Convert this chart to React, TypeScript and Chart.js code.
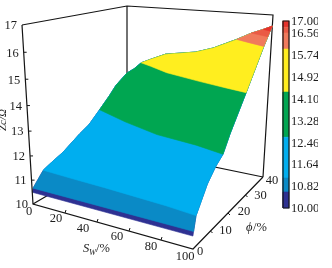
import React, { useEffect, useRef } from "react";
import { Chart, registerables } from "chart.js";

Chart.register(...registerables);

// ---- data: resistivity-like surface z(Sw, phi) ----
const leftRimPhi = [0, 0.4, 5, 8, 13.4, 20.4, 24.4, 28.8, 32.8, 35.6, 40];
const leftRimZ = [10.46, 10.6, 11.08, 11.2, 11.4, 11.83, 12.05, 12.5, 12.95, 13.33, 13.72];
const backEdgeSw = [0, 5, 10, 16, 27, 48, 60, 76, 86, 94, 100];
const backEdgeZ = [13.72, 13.97, 14.3, 14.5, 14.84, 15.08, 15.34, 15.82, 16.15, 16.35, 16.52];
const rightRimPhi = [0, 0.4, 1.8, 8, 12.4, 16.4, 20, 28, 36.2, 38, 39, 40];
const rightRimZ = [10.46, 10.6, 11.08, 11.86, 12.25, 12.5, 13.08, 14.3, 15.82, 16.15, 16.35, 16.52];

const contourLevels = [10.46, 10.6, 11.08, 12.5, 14.3, 15.82, 16.15, 16.35];
const contourSw = [
  [0, 100],
  [0, 100],
  [0, 20, 40, 60, 80, 100],
  [0, 25, 52, 80, 100],
  [10, 20, 37, 64, 85, 100],
  [76, 88, 100],
  [86, 100],
  [94, 100],
];
const contourPhi = [
  [0, 0],
  [0.4, 0.4],
  [5, 4.4, 4, 3.4, 2.8, 1.8],
  [28.8, 24, 20, 18.4, 16.4],
  [40, 38, 34.4, 31.2, 29.2, 28],
  [40, 38, 36.2],
  [40, 38],
  [40, 39],
];
const bandColors = ["#2e3192", "#0a8ac6", "#00aeef", "#00a651", "#ffee1f", "#f07a5c", "#ea5a45", "#e6322c"];

const barStops = [10, 10.6, 11.12, 12.65, 14.34, 15.95, 16.55, 16.77, 17];
const barTicks = [10, 10.82, 11.64, 12.46, 13.28, 14.1, 14.92, 15.74, 16.56, 17];
const zTicks = [10, 11, 12, 13, 14, 15, 16, 17];
const swTicks = [0, 20, 40, 60, 80, 100];
const phiTicks = [0, 10, 20, 30, 40];

// ---- view ----
const W = 332;
const H = 268;
const FONT = '"Liberation Serif", serif';
const INK = "#141414";
const LOW = { a: [33, 204], b: [193, 249], c: [263, 177], d: [127, 149] };
const HIGH = { a: [22, 25], b: [192, 52], c: [273, 15], d: [127, 6] };
const BAR = { x0: 283, x1: 289, y0: 208, y1: 21 };

type Pt = { x: number; y: number };

function project(sw: number, phi: number, z: number): Pt {
  const s = sw / 100;
  const p = phi / 40;
  const t = (z - 10) / 7;
  const mix = (k: number, c: typeof LOW) =>
    (1 - s) * (1 - p) * c.a[k] + s * (1 - p) * c.b[k] + s * p * c.c[k] + (1 - s) * p * c.d[k];
  return {
    x: mix(0, LOW) * (1 - t) + mix(0, HIGH) * t,
    y: mix(1, LOW) * (1 - t) + mix(1, HIGH) * t,
  };
}

function bandPolygon(i: number): Pt[] {
  const level = contourLevels[i];
  const line = contourSw[i].map((sw, k) => project(sw, contourPhi[i][k], level));
  const rim: Pt[] = [];
  rightRimPhi.forEach((phi, k) => {
    if (rightRimZ[k] > level) rim.push(project(100, phi, rightRimZ[k]));
  });
  for (let k = backEdgeSw.length - 2; k >= 1; k--) {
    if (backEdgeZ[k] > level) rim.push(project(backEdgeSw[k], 40, backEdgeZ[k]));
  }
  for (let k = leftRimPhi.length - 1; k >= 0; k--) {
    if (leftRimZ[k] > level) rim.push(project(0, leftRimPhi[k], leftRimZ[k]));
  }
  const pts = [...line, ...rim];
  return [...pts, pts[0]];
}

const zWarp = (z: number) => {
  const t = (z - 10) / 7;
  return 10 + 7 * (t - 0.022 * Math.sin(Math.PI * t));
};

const wire = (data: Pt[], order: number, width = 1.2) => ({
  data,
  order,
  borderColor: INK,
  borderWidth: width,
  pointRadius: 0,
  fill: false,
  tension: 0,
});

const fillPoly = (data: Pt[], color: string, order: number) => ({
  data,
  order,
  borderColor: color,
  backgroundColor: color,
  borderWidth: 0.6,
  pointRadius: 0,
  fill: "shape",
  tension: 0,
});

function buildDatasets() {
  const out: any[] = [];
  // back frame lies under the surface
  out.push(wire([project(0, 0, 10), project(0, 40, 10), project(100, 40, 10)], 500));
  out.push(wire([project(0, 40, 10), project(0, 40, 17)], 500));
  out.push(wire([project(0, 0, 17), project(0, 40, 17), project(100, 40, 17), project(100, 40, 10)], 500));
  // surface bands, lowest first
  contourLevels.forEach((_, i) => out.push(fillPoly(bandPolygon(i), bandColors[i], 200 - i)));
  // front frame on top
  out.push(wire([project(0, 0, 17), project(0, 0, 10), project(100, 0, 10), project(100, 40, 10)], 50));
  zTicks.slice(1, -1).forEach((z) => {
    const a = project(0, 0, zWarp(z));
    out.push(wire([a, { x: a.x + 3, y: a.y }], 50, 1));
  });
  swTicks.slice(1, -1).forEach((sw) => {
    const a = project(sw, 0, 10);
    out.push(wire([a, { x: a.x + 1, y: a.y - 3 }], 50, 1));
  });
  phiTicks.slice(1, -1).forEach((phi) => {
    const a = project(100, phi, 10);
    out.push(wire([a, { x: a.x + 2, y: a.y + 2 }], 50, 1));
  });
  // colour bar
  const barY = (v: number) => BAR.y0 + ((BAR.y1 - BAR.y0) * (v - 10)) / 7;
  const barColors = ["#2e3192", "#0a8ac6", "#00aeef", "#00a651", "#ffee1f", "#f07a5c", "#ea5a45", "#e6322c"];
  barStops.slice(0, -1).forEach((v, i) => {
    const y0 = barY(v);
    const y1 = barY(barStops[i + 1]);
    out.push(
      fillPoly(
        [
          { x: BAR.x0, y: y0 },
          { x: BAR.x1, y: y0 },
          { x: BAR.x1, y: y1 },
          { x: BAR.x0, y: y1 },
          { x: BAR.x0, y: y0 },
        ],
        barColors[i],
        40,
      ),
    );
  });
  out.push(
    wire(
      [
        { x: BAR.x0, y: BAR.y0 },
        { x: BAR.x1, y: BAR.y0 },
        { x: BAR.x1, y: BAR.y1 },
        { x: BAR.x0, y: BAR.y1 },
        { x: BAR.x0, y: BAR.y0 },
      ],
      30,
    ),
  );
  return out;
}

const swLabelDx = [-4, -9, -14, -12, -10, -8];
const swLabelDy = [8, 6, 7, 6, 7, 8];
const phiLabelDx = [7, 15, 16, 15, 9];
const phiLabelDy = [3, 0, -1, 1, 4];

const textPlugin = {
  id: "axisText",
  afterDraw(chart: any) {
    const ctx: CanvasRenderingContext2D = chart.ctx;
    const sx = (v: number) => chart.scales.x.getPixelForValue(v);
    const sy = (v: number) => chart.scales.y.getPixelForValue(v);
    const put = (txt: string, x: number, y: number, align: CanvasTextAlign = "center") => {
      ctx.textAlign = align;
      ctx.fillText(txt, sx(x), sy(y));
    };
    ctx.save();
    ctx.fillStyle = "#1c1c1c";
    ctx.textBaseline = "middle";
    ctx.font = `12.5px ${FONT}`;
    zTicks.forEach((z) => {
      const a = project(0, 0, zWarp(z));
      put(String(z), a.x - 5, a.y + 1, "right");
    });
    swTicks.forEach((sw, i) => {
      const a = project(sw, 0, 10);
      put(String(sw), a.x + swLabelDx[i], a.y + swLabelDy[i]);
    });
    phiTicks.forEach((phi, i) => {
      const a = project(100, phi, 10);
      put(String(phi), a.x + phiLabelDx[i], a.y + phiLabelDy[i]);
    });
    // colour-bar labels are cut off by the picture's edge
    ctx.save();
    ctx.beginPath();
    ctx.rect(0, 0, 318, H);
    ctx.clip();
    barTicks.forEach((v) => {
      const y = BAR.y0 + ((BAR.y1 - BAR.y0) * (v - 10)) / 7;
      put(v.toFixed(2), 291, y + 1, "left");
    });
    ctx.restore();
    // axis titles
    ctx.font = `italic 12.5px ${FONT}`;
    put("S", 83, 249, "left");
    ctx.font = `italic 8.5px ${FONT}`;
    put("W", 89, 253, "left");
    ctx.font = `12.5px ${FONT}`;
    put("/%", 96, 249, "left");
    ctx.font = `italic 12.5px ${FONT}`;
    put("ϕ", 246, 228, "left");
    ctx.font = `12.5px ${FONT}`;
    put("/%", 253, 228, "left");
    // rotated z title, cut by the left edge
    ctx.translate(sx(3), sy(120));
    ctx.rotate(-Math.PI / 2);
    ctx.textAlign = "center";
    ctx.font = `italic 11px ${FONT}`;
    ctx.fillText("Zc/Ω", 0, 0);
    ctx.restore();
  },
};

export default function App() {
  const ref = useRef<HTMLCanvasElement>(null);
  useEffect(() => {
    const chart = new Chart(ref.current!, {
      type: "line",
      data: { datasets: buildDatasets() },
      options: {
        responsive: false,
        animation: false,
        layout: { padding: 0 },
        plugins: { legend: { display: false }, tooltip: { enabled: false } },
        scales: {
          x: { type: "linear", min: 0, max: W, display: false },
          y: { type: "linear", min: 0, max: H, reverse: true, display: false },
        },
      },
      plugins: [textPlugin],
    } as any);
    return () => chart.destroy();
  }, []);
  return (
    <div style={{ position: "fixed", left: 0, top: 0, width: W, height: H, background: "#fff" }}>
      <canvas ref={ref} width={W} height={H} style={{ display: "block" }} />
    </div>
  );
}
